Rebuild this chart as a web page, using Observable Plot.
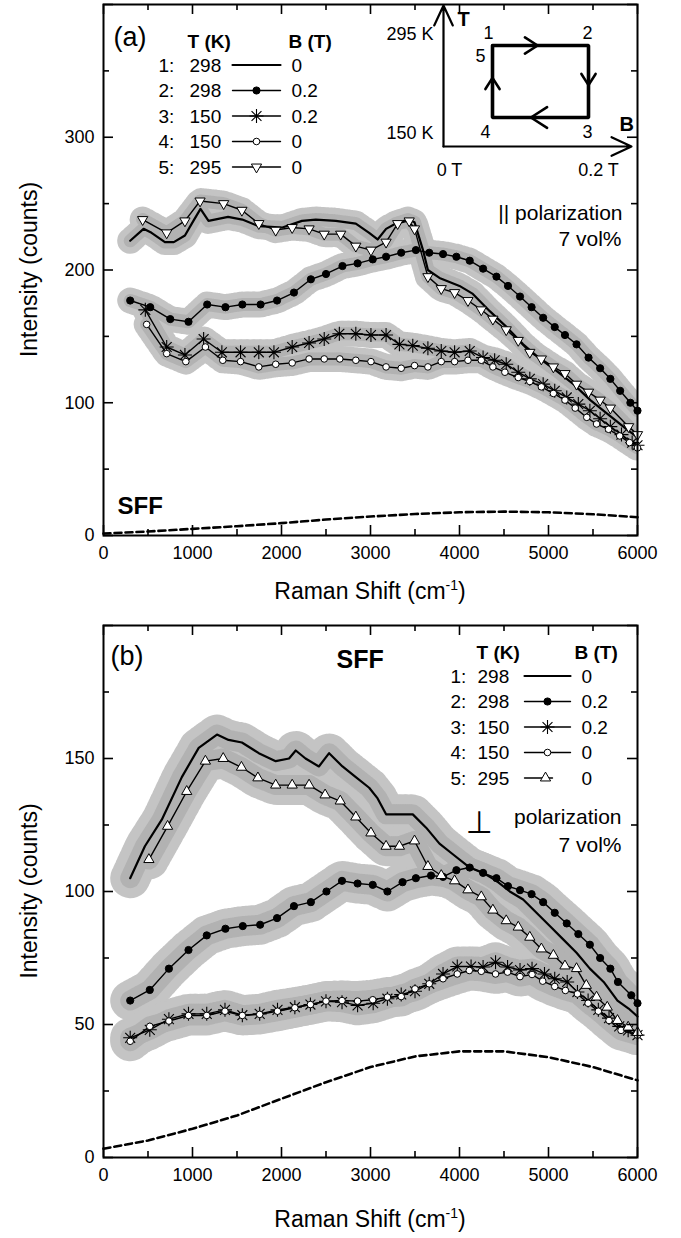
<!DOCTYPE html>
<html><head><meta charset="utf-8">
<script src="https://cdn.jsdelivr.net/npm/d3@7"></script>
<script src="https://cdn.jsdelivr.net/npm/@observablehq/plot@0.6"></script>
<style>
body{margin:0;background:#fff;}
#wrap{position:relative;width:681px;height:1238px;overflow:hidden;background:#fff;}
#wrap svg{display:block;}
</style></head><body><div id="wrap"></div>
<script>
// ---------- ticks ----------
const xMajor = [0,1000,2000,3000,4000,5000,6000];
const xMinor = [500,1500,2500,3500,4500,5500];
const yMajorA = [0,100,200,300,400], yLabelA = [0,100,200,300], yMinorA = [50,150,250,350];
const yMajorB = [0,50,100,150,200], yLabelB = [0,50,100,150], yMinorB = [25,75,125,175];

// ---------- legend ----------
const legendIdx = ["1:","2:","3:","4:","5:"];
const legendT = ["298","298","150","150","295"];
const legendB = ["0","0.2","0.2","0","0"];

// ---------- panel (a): parallel polarization ----------
const a1 = [[300,222],[450,231],[540,228],[690,221],[790,221],[915,226],[1010,237],[1090,246],[1180,237],[1400,240],[1560,238],[1745,233],[2010,232],[2230,237],[2385,238],[2610,237],[2835,235],[2985,228],[3080,223],[3175,231],[3285,235],[3420,238],[3495,236],[3590,215],[3645,200],[3775,194],[4000,188],[4150,182],[4340,169],[4530,157],[4715,144],[4905,133],[5090,124],[5280,114],[5470,102],[5655,92],[5880,80],[6000,74]];
const a2 = [[300,177],[525,172],[750,163],[955,161],[1165,174],[1370,172],[1560,174],[1765,174],[1950,177],[2140,183],[2330,193],[2500,197],[2685,203],[2855,205],[3025,208],[3175,210],[3345,213],[3510,215],[3660,213],[3815,212],[3965,210],[4115,207],[4265,201],[4415,195],[4545,188],[4680,180],[4810,172],[4940,164],[5070,157],[5185,151],[5315,144],[5450,134],[5580,126],[5695,118],[5805,109],[5920,100],[6000,94]];
const a3 = [[470,170],[710,142],[915,136],[1125,148],[1330,138],[1540,138],[1745,138],[1915,138],[2120,142],[2310,145],[2480,148],[2650,152],[2835,152],[3005,151],[3175,151],[3325,144],[3475,143],[3645,141],[3795,139],[3945,138],[4115,139],[4265,134],[4395,132],[4525,129],[4660,123],[4790,118],[4940,114],[5070,109],[5205,104],[5335,99],[5465,94],[5580,88],[5695,82],[5820,76],[5940,70],[6000,68]];
const a4 = [[485,159],[710,137],[925,131],[1145,142],[1340,132],[1540,131],[1745,127],[1935,129],[2120,130],[2310,133],[2480,133],[2655,133],[2835,132],[3005,131],[3175,127],[3345,126],[3495,128],[3645,127],[3795,131],[3945,131],[4095,132],[4245,132],[4375,127],[4510,123],[4660,119],[4790,116],[4920,112],[5055,107],[5185,102],[5300,96],[5430,89],[5540,84],[5675,80],[5800,75],[5910,70],[6000,66]];
const a5 = [[440,238],[710,228],[915,237],[1085,252],[1350,250],[1555,245],[1745,235],[1935,230],[2120,232],[2310,231],[2480,227],[2665,227],[2835,218],[3005,215],[3175,221],[3305,235],[3435,237],[3495,231],[3645,195],[3795,186],[3945,183],[4095,177],[4245,170],[4375,163],[4525,155],[4660,147],[4790,138],[4920,133],[5055,127],[5185,122],[5315,114],[5450,108],[5580,102],[5695,96],[5900,82],[6000,76]];
const sffA = [[0,1.5],[500,3],[1000,5],[1500,7],[2000,9.3],[2500,12],[3000,14.3],[3500,16.2],[4000,17.5],[4500,18],[5000,17.5],[5500,16],[6000,13.8]];

// ---------- panel (b): perpendicular polarization ----------
const b1 = [[300,105],[465,117],[655,127],[880,143],[1070,154],[1275,159],[1405,157],[1555,156],[1745,152],[1935,149],[2085,150],[2160,153],[2270,150],[2420,147],[2535,152],[2685,147],[2835,143],[2985,139],[3080,135],[3175,129],[3325,129],[3475,129],[3625,124],[3775,118],[3925,114],[4115,109],[4265,107],[4415,104],[4565,100],[4715,97],[4865,92],[5015,87],[5165,82],[5315,77],[5465,71],[5620,66],[5775,59],[5900,56],[6000,53]];
const b2 = [[300,59],[520,63],[735,71],[955,78],[1160,83.5],[1370,86],[1565,87],[1760,87.5],[1950,90],[2140,94.5],[2330,96],[2505,100],[2680,104],[2855,103],[3025,102.5],[3190,100],[3360,103.5],[3510,105],[3680,106],[3815,105.5],[3965,108],[4115,109],[4265,107],[4415,105],[4545,102],[4680,100.5],[4810,99],[4940,96],[5070,92],[5205,88],[5335,84],[5465,80],[5580,75],[5695,71],[5780,66],[5930,61],[6000,58]];
const b3 = [[300,45],[520,48],[735,52],[955,54],[1160,54],[1365,55.5],[1560,53.5],[1755,54],[1955,55.5],[2150,56.5],[2325,57.5],[2500,58.7],[2680,58.4],[2855,57.2],[3030,58],[3190,59.7],[3345,61.3],[3500,62.5],[3660,65.3],[3815,69],[3975,71.8],[4130,71.8],[4265,71.6],[4405,73.4],[4540,71.6],[4680,70.5],[4815,71],[4955,69],[5070,67.2],[5210,66],[5325,62.2],[5445,59],[5560,55.5],[5680,52.4],[5795,49.3],[5895,47.8],[6000,46]];
const b4 = [[300,43.7],[520,49.3],[735,51.3],[955,53.4],[1160,53.4],[1365,55],[1560,53.4],[1755,53.8],[1955,55],[2150,56.3],[2325,57.5],[2500,58.8],[2680,59],[2855,58.8],[3025,59.3],[3190,60.3],[3345,60.5],[3500,63.4],[3660,65.3],[3815,67.2],[3975,69],[4110,70.3],[4245,70],[4405,69],[4540,69.7],[4680,68],[4815,68.8],[4935,66.3],[5070,64.3],[5190,62.8],[5325,61.5],[5445,58],[5560,55],[5680,51.5],[5815,47.8],[6000,46]];
const b5 = [[510,112],[720,124.5],[935,137.6],[1145,149],[1345,150],[1550,146.7],[1735,142.7],[1935,140],[2120,140],[2310,140],[2490,136.3],[2660,134],[2835,128],[3005,122],[3175,117],[3325,117],[3495,119],[3645,109.4],[3795,106],[3945,104],[4095,100.6],[4245,98],[4375,93],[4525,89],[4660,86.6],[4790,82.8],[4920,78.4],[5055,76],[5185,72],[5315,71],[5425,64.7],[5540,60.3],[5660,56.5],[5775,51.5],[5895,49],[6000,47]];
const sffB = [[0,3.3],[500,6.4],[1000,10.8],[1500,15.8],[2000,22.1],[2500,28.3],[3000,34],[3500,38],[4000,39.9],[4500,39.9],[5000,37.7],[5500,34],[6000,29]];

// ---------- inset (T-B cycle) ----------
const insetB = [0, 0.2];          // tesla
const insetT = [150, 295];        // kelvin
const cycle = [                   // measurement order
  {n:"1", B:0,   T:295},
  {n:"2", B:0.2, T:295},
  {n:"3", B:0.2, T:150},
  {n:"4", B:0,   T:150},
  {n:"5", B:0,   T:295}
];

// ---------- symbols ----------
const S3 = Math.sqrt(3);
const triDown = {draw(c, size){const y = Math.sqrt(size/(S3*3)); c.moveTo(0,2*y); c.lineTo(-S3*y,-y); c.lineTo(S3*y,-y); c.closePath();}};
const triUp = {draw(c, size){const y = Math.sqrt(size/(S3*3)); c.moveTo(0,-2*y); c.lineTo(-S3*y,y); c.lineTo(S3*y,y); c.closePath();}};
const star = {draw(c, size){const r = Math.sqrt(size/Math.PI), d = r*Math.SQRT1_2;
  c.moveTo(0,-r); c.lineTo(0,r); c.moveTo(-d,-d); c.lineTo(d,d); c.moveTo(-d,d); c.lineTo(d,-d); c.moveTo(-r,0); c.lineTo(r,0);}};

const FONT = "'Liberation Sans', Arial, Helvetica, sans-serif";
const W = 681, FL = 103, FR = 637;

function styleFor(i, tri){
  return [
    {lw:2.2, symbol:null},
    {lw:1.4, symbol:"circle", r:3.6, fill:"black"},
    {lw:1.4, symbol:star, r:7, fill:"none", sw:1.1},
    {lw:1.4, symbol:"circle", r:3.3, fill:"white"},
    {lw:1.4, symbol:tri, r:3.8, fill:"white"}
  ][i];
}

function buildPanel(cfg){
  const H = cfg.height, top = cfg.top, bottom = cfg.bottom;
  const plotW = FR - FL, plotH = H - top - bottom;
  const sx = d3.scaleLinear([0,6000],[FL,FR]);
  const sy = d3.scaleLinear([0,cfg.yMax],[H-bottom, top]);
  const at = (gx, gy) => [{x: sx.invert(gx), y: sy.invert(gy)}];
  const txt = (s, gx, gy, o = {}) => Plot.text(at(gx,gy), {x:"x", y:"y", text: () => s,
      textAnchor: o.anchor || "start", lineAnchor: "bottom", fontSize: o.size || 19,
      fontWeight: o.weight || "normal", fontFamily: o.family || FONT, fill: "black"});
  const XY = {x: d => d[0], y: d => d[1]};
  const series = cfg.series.map((d, i) => ({data: d, ...styleFor(i, cfg.tri)}));
  const m = [];
  // grey raw-spectrum noise band (drawn as a striped halo + lighter core)
  series.forEach(s => m.push(Plot.line(s.data, {...XY, stroke:"#c4c4c4", strokeWidth: cfg.halo, strokeDasharray:"1,2.5,1,1.2,1,3.5,1,1.8", clip:true})));
  series.forEach(s => m.push(Plot.line(s.data, {...XY, stroke:"#b2b2b2", strokeWidth: cfg.core, strokeDasharray:"1.2,0.6", strokeLinejoin:"round", clip:true})));
  m.push(Plot.line(cfg.sff, {...XY, stroke:"black", strokeWidth:2.6, strokeDasharray:"7,4"}));
  series.forEach(s => m.push(Plot.line(s.data, {...XY, stroke:"black", strokeWidth: s.lw})));
  series.forEach(s => { if (s.symbol) m.push(Plot.dot(s.data, {...XY, symbol: s.symbol, r: s.r, fill: s.fill, stroke:"black", strokeWidth: s.sw || 1})); });
  // ticks inside the frame on all four sides
  const tk = 10, tm = 6, tw = 1.6;
  m.push(Plot.ruleX(xMajor, {insetTop: plotH - tk, strokeWidth: tw}));
  m.push(Plot.ruleX(xMinor, {insetTop: plotH - tm, strokeWidth: tw}));
  m.push(Plot.ruleX(xMajor, {insetBottom: plotH - tk, strokeWidth: tw}));
  m.push(Plot.ruleX(xMinor, {insetBottom: plotH - tm, strokeWidth: tw}));
  m.push(Plot.ruleY(cfg.yMajor, {insetRight: plotW - tk, strokeWidth: tw}));
  m.push(Plot.ruleY(cfg.yMinor, {insetRight: plotW - tm, strokeWidth: tw}));
  m.push(Plot.ruleY(cfg.yMajor, {insetLeft: plotW - tk, strokeWidth: tw}));
  m.push(Plot.ruleY(cfg.yMinor, {insetLeft: plotW - tm, strokeWidth: tw}));
  m.push(Plot.frame({stroke:"black", strokeWidth:2}));
  m.push(Plot.axisX({ticks: xMajor, tickSize: 0, tickPadding: 11, tickFormat: d3.format("d"), label: null, fontSize: 18}));
  m.push(Plot.axisY({ticks: cfg.yLabel, tickSize: 0, tickPadding: 9, tickFormat: d3.format("d"), label: null, fontSize: 18}));
  // legend & annotations
  const L = cfg.legend;
  m.push(txt(L.tag, L.tagX, L.tagY, {size: 27}));
  m.push(txt("T (K)", L.tX, L.headY, {weight:"bold"}));
  m.push(txt("B (T)", L.bX, L.headY, {weight:"bold"}));
  for (let i = 0; i < 5; i++) {
    const by = L.row0 + i*L.dRow, ly = by - 6.5;
    m.push(txt(legendIdx[i], L.idxX, by));
    m.push(txt(legendT[i], L.valX, by));
    m.push(txt(legendB[i], L.bvX, by));
    const x2 = (i === 4 && L.short) ? L.short : L.lineX2;
    m.push(Plot.line([at(L.lineX1, ly)[0], at(x2, ly)[0]], {x:"x", y:"y", stroke:"black", strokeWidth: series[i].lw}));
    if (series[i].symbol) {
      const mx = (i === 4 && L.shortM) ? L.shortM : (L.lineX1 + L.lineX2)/2;
      m.push(Plot.dot(at(mx, ly), {x:"x", y:"y", symbol: series[i].symbol, r: series[i].r, fill: series[i].fill, stroke:"black", strokeWidth: series[i].sw || 1}));
    }
  }
  cfg.notes.forEach(n => m.push(txt(n.s, n.x, n.y, n)));
  const svg = Plot.plot({
    width: W, height: H, marginLeft: FL, marginRight: W - FR, marginTop: top, marginBottom: bottom,
    x: {domain: [0, 6000]}, y: {domain: [0, cfg.yMax]},
    style: {fontFamily: FONT, fontSize: "18px", color: "black", background: "white", overflow: "visible"},
    marks: m
  });
  // axis titles (with superscript)
  const g = d3.select(svg).append("g").attr("font-family", FONT).attr("fill", "black");
  const xt = g.append("text").attr("x", (FL+FR)/2).attr("y", cfg.xTitleY).attr("text-anchor","middle").attr("font-size", 23);
  xt.append("tspan").text("Raman Shift (cm");
  xt.append("tspan").attr("dy", -9).attr("font-size", 14).text("-1");
  xt.append("tspan").attr("dy", 9).text(")");
  g.append("text").attr("transform", `translate(37,${(top + H - bottom)/2}) rotate(-90)`).attr("text-anchor","middle").attr("font-size", 23).text("Intensity (counts)");
  return svg;
}

const wrap = document.getElementById("wrap");

const panelA = buildPanel({
  height: 606, top: 4, bottom: 71, yMax: 400, yMajor: yMajorA, yMinor: yMinorA, yLabel: yLabelA,
  series: [a1, a2, a3, a4, a5], sff: sffA, tri: triDown, halo: 26, core: 13, xTitleY: 599,
  legend: {tag:"(a)", tagX:113, tagY:45, headY:47, tX:187, bX:288, row0:71, dRow:25.5,
           idxX:158, valX:189, lineX1:232, lineX2:280, bvX:291},
  notes: [
    {s:"SFF", x:117, y:513, size:24, weight:"bold"},
    {s:"|| polarization", x:622, y:219, size:21, anchor:"end"},
    {s:"7 vol%", x:621, y:245, size:21, anchor:"end"}
  ]
});
wrap.appendChild(panelA);

const OB = 606;
const panelB = buildPanel({
  height: 632, top: 19, bottom: 81, yMax: 200, yMajor: yMajorB, yMinor: yMinorB, yLabel: yLabelB,
  series: [b1, b2, b3, b4, b5], sff: sffB, tri: triUp, halo: 40, core: 20, xTitleY: 1227 - OB,
  legend: {tag:"(b)", tagX:110, tagY:664 - OB, headY:658 - OB, tX:476, bX:574, row0:682 - OB, dRow:25.5,
           idxX:450, valX:477, lineX1:524, lineX2:570, bvX:581, short:552, shortM:545},
  notes: [
    {s:"SFF", x:336, y:667 - OB, size:25, weight:"bold"},
    {s:"⊥", x:465, y:832 - OB, size:31, family:"'DejaVu Sans', sans-serif"},
    {s:"polarization", x:621, y:823 - OB, size:21, anchor:"end"},
    {s:"7 vol%", x:621, y:851 - OB, size:21, anchor:"end"}
  ]
});
wrap.appendChild(panelB);

// ---------- inset plot: cycle in the (B, T) plane ----------
const IL = FR - 267, IW = 275, IH = 185;
const ix = d3.scaleLinear(insetB, [122, 218]);
const iy = d3.scaleLinear(insetT, [117, 45]);
const ip = (px, py) => ({B: ix.invert(px), T: iy.invert(py)});
const origin = ip(73, 146), bEnd = ip(261, 146), tEnd = ip(73, 5);
const fr = [0.47, 0.55, 0.6, 0.55];
const edges = d3.range(4).map(i => {
  const p = cycle[i], q = cycle[i+1];
  return {B1: p.B, T1: p.T, B2: p.B + (q.B - p.B)*fr[i], T2: p.T + (q.T - p.T)*fr[i]};
});
// label offsets (px) of each numbered point relative to its corner
const cornerOff = {"1":[-4,-7], "2":[-1,-7], "3":[-1,20], "4":[-7,20], "5":[-12,16]};
const itext = (s, px, py, o = {}) => Plot.text([ip(px, py)], {x:"B", y:"T", text: () => s, textAnchor: o.anchor || "middle",
  lineAnchor:"bottom", fontSize: o.size || 18, fontWeight: o.weight || "normal", fontFamily: FONT, fill:"black"});
const insetMarks = [
  Plot.arrow([{x1: origin.B, y1: origin.T, x2: bEnd.B, y2: bEnd.T}, {x1: origin.B, y1: origin.T, x2: tEnd.B, y2: tEnd.T}],
    {x1:"x1", y1:"y1", x2:"x2", y2:"y2", stroke:"black", strokeWidth:2.2, headLength:15, headAngle:50}),
  Plot.line(cycle, {x:"B", y:"T", stroke:"black", strokeWidth:3.6, strokeLinejoin:"miter"}),
  Plot.arrow(edges, {x1:"B1", y1:"T1", x2:"B2", y2:"T2", stroke:"black", strokeWidth:2.6, headLength:13, headAngle:65}),
  itext("295 K", 63, 39, {anchor:"end"}),
  itext("150 K", 63, 138, {anchor:"end"}),
  itext("0 T", 79, 175),
  itext("0.2 T", 228, 175),
  itext("T", 87, 25, {anchor:"start", weight:"bold", size:20}),
  itext("B", 249, 130, {anchor:"start", weight:"bold", size:20})
];
cycle.forEach(p => {
  const [ox, oy] = cornerOff[p.n];
  insetMarks.push(itext(p.n, ix(p.B) + ox, iy(p.T) + oy));
});
const inset = Plot.plot({
  width: IW, height: IH, margin: 0,
  x: {domain: insetB, range: [122, 218], axis: null},
  y: {domain: insetT, range: [117, 45], axis: null},
  style: {fontFamily: FONT, background: "transparent", overflow: "visible", position: "absolute", left: IL + "px", top: "0px"},
  marks: insetMarks
});
wrap.appendChild(inset);
</script></body></html>
